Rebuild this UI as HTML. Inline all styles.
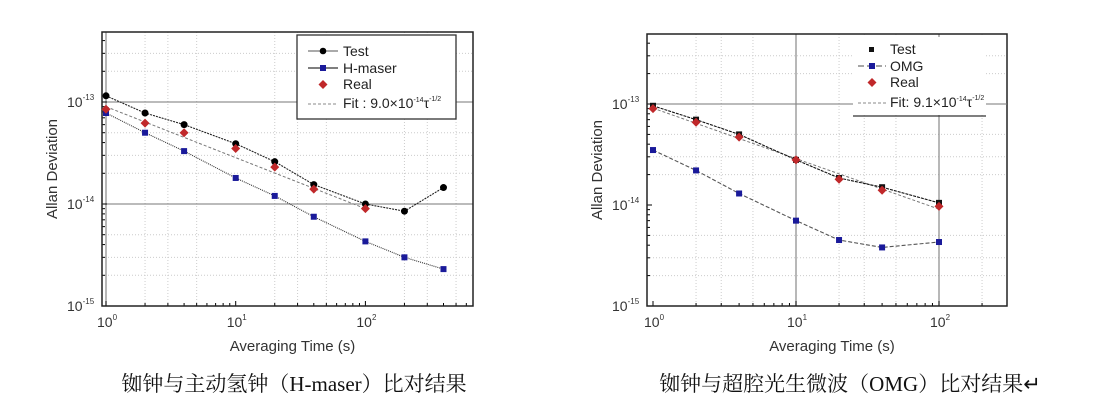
<!DOCTYPE html>
<html><head><meta charset="utf-8"><style>
html,body{margin:0;padding:0;background:#fff;}
svg{display:block;}
</style></head><body>
<svg id="s" width="1098" height="405" xmlns="http://www.w3.org/2000/svg" font-family="Liberation Sans, sans-serif"></svg>
<script>
const S=document.getElementById('s');let h='';
function chart(c){
 const X=v=>c.x0+Math.log10(v)*c.dx, Y=v=>c.y0-(Math.log10(v)+13)*c.dy;
 for(let d=-15;d<=-13;d++)for(let m of [2,3,5]){const y=Y(m*Math.pow(10,d));if(y>c.T&&y<c.B)h+=`<line x1="${c.L}" x2="${c.R}" y1="${y}" y2="${y}" stroke="#ccc" stroke-dasharray="1,2"/>`;}
 for(let d=0;d<=2;d++)for(let m of [2,3,5]){const x=X(m*Math.pow(10,d));if(x<c.R)h+=`<line y1="${c.T}" y2="${c.B}" x1="${x}" x2="${x}" stroke="#ccc" stroke-dasharray="1,2"/>`;}
 c.hl.forEach(v=>h+=`<line x1="${c.L}" x2="${c.R}" y1="${Y(v)}" y2="${Y(v)}" stroke="#777" stroke-width="1"/>`);
 c.vl.forEach(v=>h+=`<line y1="${c.T}" y2="${c.B}" x1="${X(v)}" x2="${X(v)}" stroke="#888" stroke-width="1.2"/>`);
 for(let d=0;d<=2;d++)for(let m=1;m<=9;m++){const x=X(m*Math.pow(10,d));if(x<c.R)h+=`<line x1="${x}" x2="${x}" y1="${c.B}" y2="${c.B-(m==1?5:3)}" stroke="#000"/>`;}
 for(let d=-15;d<=-12;d++)for(let m=1;m<=9;m++){const y=Y(m*Math.pow(10,d));if(y>c.T&&y<=c.B)h+=`<line x1="${c.L}" x2="${c.L+(m==1?5:3)}" y1="${y}" y2="${y}" stroke="#000"/>`;}
 h+=`<rect x="${c.L}" y="${c.T}" width="${c.R-c.L}" height="${c.B-c.T}" fill="none" stroke="#222" stroke-width="1.5"/>`;
 [-13,-14,-15].forEach(e=>h+=`<text x="${c.L-35}" y="${Y(Math.pow(10,e))+5}" font-size="14" fill="#333">10<tspan dy="-7" font-size="8">${e}</tspan></text>`);
 [0,1,2].forEach(e=>h+=`<text x="${X(Math.pow(10,e))-9}" y="${c.B+21}" font-size="14" fill="#333">10<tspan dy="-7" font-size="8">${e}</tspan></text>`);
 h+=`<text x="${(c.L+c.R)/2+5}" y="351" font-size="15" text-anchor="middle" fill="#333">Averaging Time (s)</text>`;
 h+=`<text transform="translate(${c.L-45},${(c.T+c.B)/2}) rotate(-90)" font-size="15" text-anchor="middle" fill="#333">Allan Deviation</text>`;
 h+=`<line x1="${X(1)}" y1="${Y(c.fit)}" x2="${X(100)}" y2="${Y(c.fit/10)}" stroke="#777" stroke-dasharray="3,2"/>`;
 c.series.forEach(s=>{
  const p=s.d.map((v,i)=>[X(s.t[i]),Y(v)]);
  if(s.line)h+=`<polyline points="${p.map(q=>q.join(',')).join(' ')}" fill="none" stroke="${s.lc}" stroke-dasharray="${s.dash}" stroke-width="1.1"/>`;
  p.forEach(q=>{
   if(s.m=='c')h+=`<circle cx="${q[0]}" cy="${q[1]}" r="3.5" fill="#000"/>`;
   else if(s.m=='s')h+=`<rect x="${q[0]-3}" y="${q[1]-3}" width="6" height="6" fill="${s.col}"/>`;
   else h+=`<polygon points="${q[0]},${q[1]-4.5} ${q[0]+4.5},${q[1]} ${q[0]},${q[1]+4.5} ${q[0]-4.5},${q[1]}" fill="#c0282a"/>`;
  });
 });
}
const t9=[1,2,4,10,20,40,100,200,400],t7=[1,2,4,10,20,40,100];
chart({L:102,R:473,T:32,B:306,x0:106,dx:129.7,y0:102,dy:102,hl:[1e-13,1e-14],vl:[1],fit:9e-14,
 series:[
 {t:t9,d:[1.15e-13,7.8e-14,6e-14,3.9e-14,2.6e-14,1.55e-14,1.0e-14,8.5e-15,1.45e-14],m:'c',line:1,lc:'#222',dash:'2,1'},
 {t:t9,d:[7.8e-14,5e-14,3.3e-14,1.8e-14,1.2e-14,7.5e-15,4.3e-15,3e-15,2.3e-15],m:'s',col:'#1a1a9a',line:1,lc:'#333',dash:'1,1'},
 {t:t7,d:[8.5e-14,6.2e-14,5e-14,3.5e-14,2.3e-14,1.4e-14,9e-15],m:'d'}]});
chart({L:647,R:1007,T:34,B:306,x0:653,dx:143,y0:104,dy:101,hl:[1e-13],vl:[10,100],fit:9.1e-14,
 series:[
 {t:t7,d:[9.6e-14,7e-14,5e-14,2.8e-14,1.85e-14,1.5e-14,1.05e-14],m:'s',col:'#111',line:1,lc:'#111',dash:'3,1'},
 {t:t7,d:[3.5e-14,2.2e-14,1.3e-14,7e-15,4.5e-15,3.8e-15,4.3e-15],m:'s',col:'#1a1a9a',line:1,lc:'#555',dash:'4,2'},
 {t:t7,d:[9e-14,6.6e-14,4.7e-14,2.8e-14,1.8e-14,1.4e-14,9.7e-15],m:'d'}]});
h+=`<rect x="297" y="35" width="159" height="84" fill="#fff" stroke="#333" stroke-width="1.3"/>`;
h+=`<line x1="308" x2="338" y1="51" y2="51" stroke="#555"/><circle cx="323" cy="51" r="3.3"/>`;
h+=`<line x1="308" x2="338" y1="68" y2="68" stroke="#333" stroke-width="1.2"/><rect x="320" y="65" width="6" height="6" fill="#1a1a9a"/>`;
h+=`<polygon points="323,80 327.5,84.5 323,89 318.5,84.5" fill="#c0282a"/>`;
h+=`<line x1="308" x2="338" y1="104" y2="104" stroke="#888" stroke-dasharray="3,2"/>`;
h+=`<g font-size="14" fill="#222"><text x="343" y="56">Test</text><text x="343" y="73">H-maser</text><text x="343" y="89">Real</text><text x="343" y="108">Fit :  9.0×10<tspan dy="-6" font-size="7">-14</tspan><tspan dy="6">τ</tspan><tspan dy="-7" font-size="7">-1/2</tspan></text></g>`;
h+=`<rect x="853" y="37" width="133" height="78" fill="#fff"/>`;
h+=`<line x1="853" x2="986" y1="116" y2="116" stroke="#333" stroke-width="1.3"/>`;
h+=`<line x1="1000" x2="1007" y1="104" y2="104" stroke="#777"/>`;
h+=`<rect x="869" y="47" width="5" height="5" fill="#111"/>`;
h+=`<line x1="858" x2="886" y1="66" y2="66" stroke="#888" stroke-width="1.5" stroke-dasharray="6,3"/><rect x="869" y="63" width="6" height="6" fill="#1a1a9a"/>`;
h+=`<polygon points="872,78 876.5,82.5 872,87 867.5,82.5" fill="#c0282a"/>`;
h+=`<line x1="858" x2="886" y1="103" y2="103" stroke="#888" stroke-dasharray="3,2"/>`;
h+=`<g font-size="14" fill="#222"><text x="890" y="54">Test</text><text x="890" y="71">OMG</text><text x="890" y="87">Real</text><text x="890" y="107">Fit: 9.1×10<tspan dy="-6" font-size="7">-14</tspan><tspan dy="6">τ</tspan><tspan dy="-7" font-size="7">-1/2</tspan></text></g>`;
h+=`<text x="294" y="391" font-size="21" text-anchor="middle" font-family="Liberation Serif, Noto Serif CJK SC, serif" fill="#111">铷钟与主动氢钟（H-maser）比对结果</text>`;
h+=`<text x="850" y="391" font-size="21" text-anchor="middle" font-family="Liberation Serif, Noto Serif CJK SC, serif" fill="#111">铷钟与超腔光生微波（OMG）比对结果↵</text>`;
S.innerHTML=h;
</script>
</body></html>
